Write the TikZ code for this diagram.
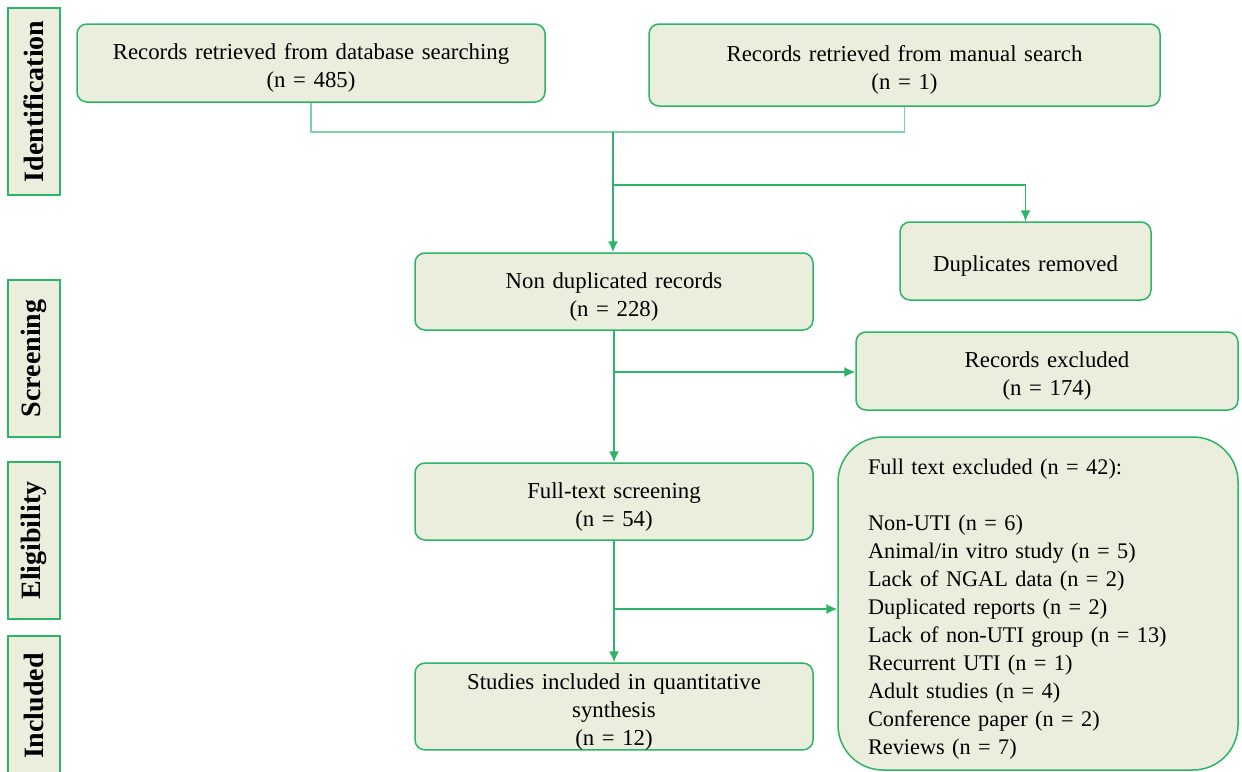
\documentclass[tikz,border=0pt]{standalone}
\usepackage{fontspec}
\setmainfont{Liberation Serif}
\usepackage{xcolor}
\usepackage{tikz}
\usetikzlibrary {positioning}
\usetikzlibrary{arrows.meta}
\definecolor{prisgreen}{HTML}{2BB565}
\definecolor{prislight}{HTML}{7FD3A2}
\definecolor{prisfill}{HTML}{EBEEDD}
\tikzset{edge/.style = {->,> = {Latex[length=11pt,width=10pt]}}}

\begin{document}
\begin{tikzpicture}[x=1pt,y=-1pt,line width=1.5pt,
    main node/.style={draw=prisgreen,fill=prisfill,rounded corners=10pt,inner xsep=0pt,align=center,font=\fontsize{22.8}{28}\selectfont,execute at begin node={\rule{0pt}{26pt}}},
    stage node/.style={draw=prisgreen,fill=prisfill,rotate=90,minimum height=52pt,inner sep=0pt,font=\fontsize{28}{30}\selectfont\bfseries}]
            \useasboundingbox (0,0) rectangle (1242,771);

            \node[stage node,minimum width=187pt] (ident) at (34,101.5) {Identification};
            \node[stage node,minimum width=157pt] (screen) at (34,358.5) {Screening};
            \node[stage node,minimum width=157pt] (elig) at (34,540.5) {Eligibility};
            \node[stage node,minimum width=140pt] (incl) at (34,706) {Included};

            \node[main node,text width=468pt,minimum height=78pt] (db) at (311,63) {Records retrieved from database searching\\(n = 485)};
            \node[main node,text width=511pt,minimum height=82pt] (manual) at (904.5,65) {Records retrieved from manual search\\(n = 1)};
            \node[main node,text width=251pt,minimum height=78pt] (dup) at (1025.5,261) {Duplicates removed};
            \node[main node,text width=398pt,minimum height=77pt] (nondup) at (614,291.5) {Non duplicated records\\(n = 228)};
            \node[main node,text width=382pt,minimum height=78pt] (excl) at (1047,371) {Records excluded\\(n = 174)};
            \node[main node,text width=398pt,minimum height=77pt] (full) at (614,501.5) {Full-text screening\\(n = 54)};
            \node[main node,text width=398pt,minimum height=83pt,inner ysep=0pt,execute at begin node={\rule{0pt}{20pt}}] (study) at (614,706.5) {Studies included in quantitative\\synthesis\\(n = 12)};
            \node[main node,font=\fontsize{22.3}{28}\selectfont,rounded corners=45pt,inner xsep=30pt,minimum height=333pt,text width=340pt,align=left] (ftexcl) at (1038,603.5) {Full text excluded (n = 42):\\[28pt]
                Non-UTI (n = 6)\\
                Animal/in vitro study (n = 5)\\
                Lack of NGAL data (n = 2)\\
                Duplicated reports (n = 2)\\
                Lack of non-UTI group (n = 13)\\
                Recurrent UTI (n = 1)\\
                Adult studies (n = 4)\\
                Conference paper (n = 2)\\
                Reviews (n = 7)};

            \coordinate (top) at (613,132);
            \coordinate (b1) at (613,185);
            \coordinate (b2) at (614,372);
            \coordinate (b3) at (614,609);

            \draw[prislight] (db.south) |- (top) -| (manual.south);
            \path[edge] (top) edge[prisgreen] (top |- nondup.north);
            \draw[edge,prisgreen] (b1) -| (dup.north);
            \path[edge] (nondup.south) edge[prisgreen] (full.north);
            \path[edge] (b2) edge[prisgreen] (b2 -| excl.west);
            \path[edge] (full.south) edge[prisgreen] (study.north);
            \path[edge] (b3) edge[prisgreen] (b3 -| ftexcl.west);

        \end{tikzpicture}
\end{document}
